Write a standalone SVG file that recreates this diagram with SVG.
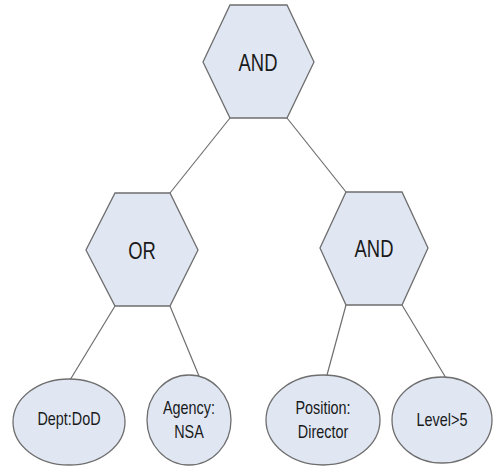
<svg xmlns="http://www.w3.org/2000/svg" width="497" height="468" viewBox="0 0 497 468">
<style>
.shape{fill:#e0e7f3;stroke:#6e6e6e;stroke-width:1.3}
.conn line{stroke:#6e6e6e;stroke-width:1.2}
text{font-family:"Liberation Sans",Arial,sans-serif;fill:#1a1a1a;text-anchor:middle}
.op{font-size:23px}
.lf{font-size:18px}
</style>
<rect width="497" height="468" fill="#ffffff"/>
<g id="connectors" class="conn">
<line x1="230" y1="118" x2="170" y2="193"/>
<line x1="287" y1="118" x2="346" y2="192"/>
<line x1="115" y1="306" x2="70" y2="380"/>
<line x1="170" y1="306" x2="199" y2="376"/>
<line x1="346" y1="305" x2="327" y2="375"/>
<line x1="402" y1="305" x2="446" y2="378"/>
</g>
<g id="and-top">
<polygon class="shape" points="230,5 287,5 314,62 287,118 230,118 203,62"/>
<text class="op" transform="translate(258,71) scale(0.8,1)">AND</text>
</g>
<g id="or">
<polygon class="shape" points="115,193 170,193 198,250 170,306 115,306 86,250"/>
<text class="op" transform="translate(142,259) scale(0.8,1)">OR</text>
</g>
<g id="and-right">
<polygon class="shape" points="346,192 402,192 428,248 402,305 346,305 320,248"/>
<text class="op" transform="translate(374,257) scale(0.8,1)">AND</text>
</g>
<g id="dept">
<ellipse class="shape" cx="69" cy="422" rx="56" ry="43"/>
<text class="lf" transform="translate(69,425) scale(0.8,1)">Dept:DoD</text>
</g>
<g id="agency">
<ellipse class="shape" cx="189" cy="420" rx="42" ry="45"/>
<text class="lf" transform="translate(189,414) scale(0.8,1)">Agency:</text>
<text class="lf" transform="translate(189,438) scale(0.8,1)">NSA</text>
</g>
<g id="position">
<ellipse class="shape" cx="323" cy="420" rx="57" ry="45"/>
<text class="lf" transform="translate(323,414) scale(0.8,1)">Position:</text>
<text class="lf" transform="translate(323,438) scale(0.8,1)">Director</text>
</g>
<g id="level">
<ellipse class="shape" cx="442" cy="420" rx="50" ry="43"/>
<text class="lf" transform="translate(442,426) scale(0.8,1)">Level&gt;5</text>
</g>
</svg>
